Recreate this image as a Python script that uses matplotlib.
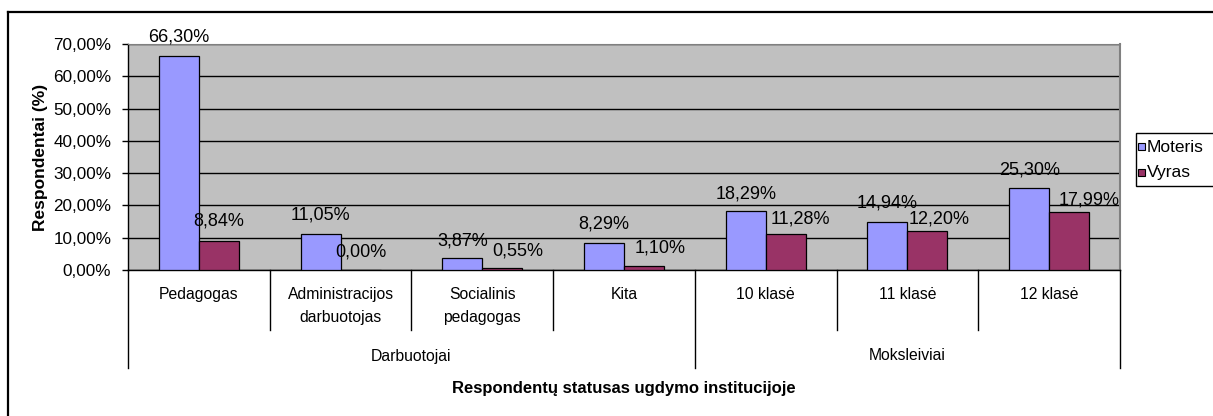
import matplotlib
matplotlib.use("Agg")
import matplotlib.pyplot as plt
from matplotlib.patches import Rectangle
from matplotlib.lines import Line2D
from matplotlib.transforms import blended_transform_factory
import numpy as np

# ---- data ----
categories = ["Pedagogas", "Administracijos\ndarbuotojas", "Socialinis\npedagogas", "Kita",
              "10 klasė", "11 klasė", "12 klasė"]
groups = ["Darbuotojai", "Moksleiviai"]
group_sizes = [4, 3]
moteris = [66.30, 11.05, 3.87, 8.29, 18.29, 14.94, 25.30]
vyras = [8.84, 0.00, 0.55, 1.10, 11.28, 12.20, 17.99]
series_names = ["Moteris", "Vyras"]
yticks = [0, 10, 20, 30, 40, 50, 60, 70]

# ---- style ----
W, H, DPI = 1213, 416, 100
C_M = "#9999FF"
C_V = "#993366"
BG = "#C0C0C0"
FONT = "Liberation Sans"
# label nudges (pixels: dx, dy above bar top)
nudge_m = [(0, 19), (0, 19), (0, 17), (0, 19), (0, 17), (0, 19), (0, 18)]
nudge_v = [(0, 20), (0, 18), (15, 17), (16, 18), (15, 15), (12, 12), (20, 12)]

plt.rcParams["font.family"] = [FONT, "DejaVu Sans"]

fig = plt.figure(figsize=(W / DPI, H / DPI), dpi=DPI)
fig.patch.set_facecolor("white")

def fx(px):
    return px / W

def fy(py):
    return 1 - py / H

L, R, T, B = 128, 1120, 44, 270
ax = fig.add_axes([fx(L), fy(B), fx(R) - fx(L), fy(T) - fy(B)])
ax.set_facecolor(BG)

n = len(categories)
x = np.arange(n)
bw = 40 / ((R - L) / n)
ax.bar(x - bw / 2, moteris, bw, color=C_M, edgecolor="black", linewidth=0.9, zorder=3)
ax.bar(x + bw / 2, vyras, bw, color=C_V, edgecolor="black", linewidth=0.9, zorder=3)

ax.set_xlim(-0.5, n - 0.5)
ax.set_ylim(0, 70)
ax.set_yticks(yticks)
ax.set_yticklabels([f"{v:.2f}%".replace(".", ",") for v in yticks], fontsize=12.3)
ax.tick_params(axis="y", direction="out", length=4, width=1, color="black", pad=8)
ax.set_xticks([])
ax.yaxis.grid(True, color="black", linewidth=1, zorder=1)
ax.set_axisbelow(True)
for s in ["left", "bottom"]:
    ax.spines[s].set_color("black")
    ax.spines[s].set_linewidth(1)
ax.spines["top"].set_color("#808080")
ax.spines["right"].set_color("#808080")
ax.spines["right"].set_linewidth(1.5)

# data labels
pt = 72 / DPI
for i in range(n):
    for vals, nud in ((moteris, nudge_m), (vyras, nudge_v)):
        off = -bw / 2 if vals is moteris else bw / 2
        dx, dy = nud[i]
        ax.annotate(f"{vals[i]:.2f}%".replace(".", ","), (x[i] + off, vals[i]),
                    xytext=(dx * pt, dy * pt), textcoords="offset points",
                    ha="center", va="center", fontsize=13, annotation_clip=False,
                    zorder=5)

ax.set_ylabel("Respondentai (%)", fontsize=12.5, fontweight="bold", labelpad=4)

# multi-level category axis
tr = blended_transform_factory(ax.transData, fig.transFigure)
bounds = np.arange(n + 1) - 0.5
outer = [-0.5]
acc = -0.5
for g in group_sizes:
    acc += g
    outer.append(acc)
for b in bounds:
    bottom = 368 if any(abs(b - o) < 1e-9 for o in outer) else 330
    fig.add_artist(Line2D([b, b], [fy(B), fy(bottom)], transform=tr, color="black", linewidth=1))
for i, c in enumerate(categories):
    fig.text(x[i], fy(287), c, transform=tr, ha="center", va="top", fontsize=11.3,
             linespacing=1.65)
start = -0.5
for g, sz in zip(groups, group_sizes):
    fig.text(start + sz / 2, fy(356), g, transform=tr, ha="center", va="center", fontsize=11.3)
    start += sz

fig.text((fx(L) + fx(R)) / 2, fy(388), "Respondentų statusas ugdymo institucijoje",
         ha="center", va="center", fontsize=12, fontweight="bold")

# outer chart frame (clipped by image)
fig.add_artist(Line2D([fx(8), fx(8)], [fy(12), fy(420)], transform=fig.transFigure,
                      color="black", linewidth=1.6))
fig.add_artist(Line2D([fx(8), fx(1220)], [fy(12), fy(12)], transform=fig.transFigure,
                      color="black", linewidth=1.6))

# legend
fig.add_artist(Rectangle((fx(1136), fy(186)), fx(1230) - fx(1136), fy(133) - fy(186),
                         transform=fig.transFigure, facecolor="white", edgecolor="black",
                         linewidth=1))
for k, (name, col) in enumerate(zip(series_names, [C_M, C_V])):
    yc = 147 + 26 * k
    fig.add_artist(Rectangle((fx(1138), fy(yc + 3)), fx(7), fy(0) - fy(7),
                             transform=fig.transFigure, facecolor=col, edgecolor="black",
                             linewidth=0.8))
    fig.text(fx(1147), fy(yc), name, ha="left", va="center", fontsize=12.5)

fig.savefig("out.png", dpi=DPI)
